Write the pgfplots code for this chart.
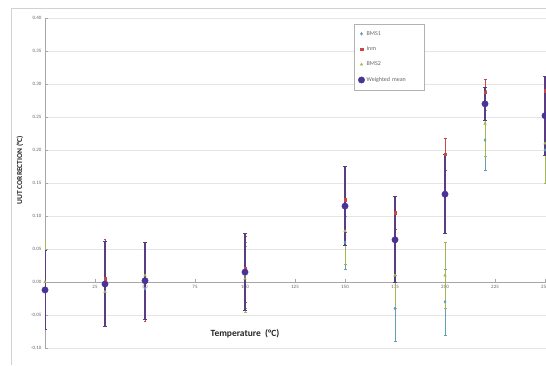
\documentclass[border=0pt]{standalone}
\usepackage{pgfplots}
\pgfplotsset{compat=1.18}
\usepackage{fontspec}
\setmainfont{Carlito}
\definecolor{bmsa}{RGB}{95,160,180}
\definecolor{inm}{RGB}{200,70,70}
\definecolor{bmsb}{RGB}{160,185,80}
\definecolor{wm}{RGB}{75,50,150}
\definecolor{wmbar}{RGB}{90,60,130}
\begin{document}
\begin{tikzpicture}[x=1bp,y=1bp]
\path[use as bounding box, clip] (0,0) rectangle (546,365);
\fill[white] (0,0) rectangle (546,365);
\draw[gray!35, line width=0.6pt] (11,0) -- (11,357) -- (546,357);
\begin{axis}[
  at={(45bp,17bp)}, anchor=south west,
  scale only axis, width=501bp, height=330bp,
  xmin=0, xmax=250.5, ymin=-0.1, ymax=0.4,
  axis x line*=middle, axis y line*=left,
  axis line style={gray!70, line width=0.5pt},
  xtick={25,50,75,100,125,150,175,200,225,250},
  ytick={-0.1,-0.05,0,0.05,0.1,0.15,0.2,0.25,0.3,0.35,0.4},
  yticklabel style={/pgf/number format/fixed, /pgf/number format/fixed zerofill, /pgf/number format/precision=2, /pgf/number format/assume math mode=true, font=\fontsize{5}{6}\selectfont, text=gray!80!black},
  xticklabel style={/pgf/number format/assume math mode=true, font=\fontsize{5}{6}\selectfont, text=gray!80!black},
  tick style={gray!70},
  major tick length=3bp,
  ymajorgrids, grid style={gray!20, line width=0.5pt},
  clip=true,
  legend style={at={(rel axis cs:0.617,0.982)}, anchor=north west, draw=gray!60, font=\fontsize{6}{7}\selectfont, text=gray!80!black, row sep=6bp, inner xsep=4bp, inner ysep=5bp, text width=52bp, cells={anchor=west}},
  legend cell align=left,
]
\addplot[only marks, mark=diamond*, mark size=1.4, color=bmsa,
  error bars/.cd, y dir=both, y explicit,
  error bar style={bmsa, line width=0.5pt}, error mark options={rotate=90, mark size=1.5, bmsa}]
  table[x=x, y=y, y error=e] {
x y e
0 -0.010 0.055
30 -0.005 0.060
50 -0.010 0.050
100 0.010 0.050
150 0.060 0.040
175 -0.040 0.050
200 -0.030 0.050
220 0.215 0.045
250 0.200 0.050
};
\addlegendentry{BMS1}
\addplot[only marks, mark=square*, mark size=1.2, color=inm,
  error bars/.cd, y dir=both, y explicit,
  error bar style={inm, line width=0.5pt}, error mark options={rotate=90, mark size=1.5, inm}]
  table[x=x, y=y, y error=e] {
x y e
0 -0.012 0.060
30 0.005 0.060
50 0.000 0.060
100 0.020 0.050
150 0.125 0.050
175 0.105 0.025
200 0.194 0.024
220 0.288 0.020
250 0.290 0.020
};
\addlegendentry{Inm}
\addplot[only marks, mark=triangle*, mark size=1.5, color=bmsb,
  error bars/.cd, y dir=both, y explicit,
  error bar style={bmsb, line width=0.5pt}, error mark options={rotate=90, mark size=1.5, bmsb}]
  table[x=x, y=y, y error=e] {
x y e
0 0.000 0.065
30 -0.015 0.050
50 0.010 0.050
100 0.005 0.050
150 0.077 0.050
175 0.010 0.050
200 0.010 0.050
220 0.240 0.050
250 0.210 0.060
};
\addlegendentry{BMS2}
\addplot[only marks, mark=*, mark size=3.2, color=wm,
  error bars/.cd, y dir=both, y explicit,
  error bar style={wmbar, line width=1.1pt}, error mark options={rotate=90, mark size=2, wmbar, line width=0.8pt}]
  table[x=x, y=y, y error=e] {
x y e
0 -0.012 0.060
30 -0.003 0.065
50 0.002 0.058
100 0.015 0.058
150 0.115 0.060
175 0.064 0.065
200 0.133 0.060
220 0.270 0.025
250 0.252 0.060
};
\addlegendentry{Weighted mean}
\end{axis}
\node[font=\bfseries\fontsize{9.5}{11}\selectfont, text=gray!30!black] at (245,31) {Temperature\ \ (°C)};
\node[rotate=90, font=\bfseries\fontsize{7.5}{9}\selectfont, text=gray!30!black] at (20,195) {UUT CORRECTION (°C)};
\end{tikzpicture}
\end{document}
